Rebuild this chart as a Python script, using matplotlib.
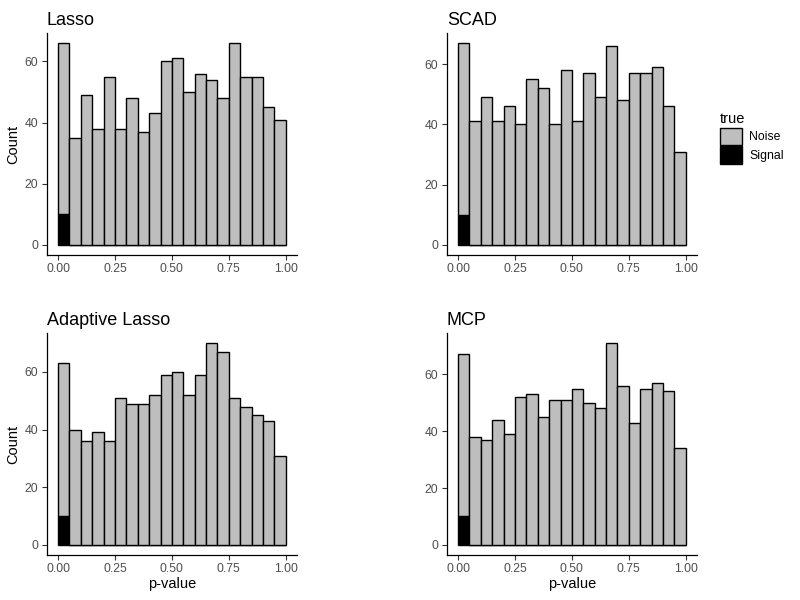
import numpy as np
import matplotlib
matplotlib.use("Agg")
import matplotlib.pyplot as plt
from matplotlib.patches import Patch

plt.rcParams["font.family"] = ["Liberation Sans", "DejaVu Sans"]

# ── Data: counts per 0.05-wide p-value bin (20 bins over [0, 1]) ──────────────
methods = ["Lasso", "SCAD", "Adaptive Lasso", "MCP"]

lasso_noise = [56, 35, 49, 38, 55, 38, 48, 37, 43, 60, 61, 50, 56, 54, 48, 66, 55, 55, 45, 41]
scad_noise = [57, 41, 49, 41, 46, 40, 55, 52, 40, 58, 41, 57, 49, 66, 48, 57, 57, 59, 46, 31]
alasso_noise = [53, 40, 36, 39, 36, 51, 49, 49, 52, 59, 60, 52, 59, 70, 67, 51, 48, 45, 43, 31]
mcp_noise = [57, 38, 37, 44, 39, 52, 53, 45, 51, 51, 55, 50, 48, 71, 56, 43, 55, 57, 54, 34]

signal = [10, 0, 0, 0, 0, 0, 0, 0, 0, 0, 0, 0, 0, 0, 0, 0, 0, 0, 0, 0]

noise_by_method = [lasso_noise, scad_noise, alasso_noise, mcp_noise]
legend_labels = ["Noise", "Signal"]
x_ticks = [0.00, 0.25, 0.50, 0.75, 1.00]

NOISE_COL = "#BEBEBE"
SIGNAL_COL = "#000000"
TICK_COL = "#4D4D4D"

bin_edges = np.linspace(0, 1, 21)
bin_left = bin_edges[:-1]
bin_width = np.diff(bin_edges)

fig = plt.figure(figsize=(8, 6), dpi=100)

# panel rectangles in figure fractions (left, bottom, width, height)
panel_boxes = [
    (0.0584, 0.575, 0.313, 0.370),
    (0.5584, 0.575, 0.313, 0.370),
    (0.0584, 0.075, 0.313, 0.370),
    (0.5584, 0.075, 0.313, 0.370),
]

for i, (name, noise) in enumerate(zip(methods, noise_by_method)):
    ax = fig.add_axes(panel_boxes[i])
    sig = np.array(signal)
    noi = np.array(noise)

    ax.bar(bin_left, sig, width=bin_width, align="edge",
           color=SIGNAL_COL, edgecolor="black", linewidth=1.0)
    ax.bar(bin_left, noi, width=bin_width, bottom=sig, align="edge",
           color=NOISE_COL, edgecolor="black", linewidth=1.0)

    total_max = (sig + noi).max()
    ax.set_xlim(-0.05, 1.05)
    ax.set_ylim(-0.05 * total_max, 1.05 * total_max)
    ax.set_xticks(x_ticks)
    ax.set_xticklabels([f"{t:.2f}" for t in x_ticks])
    ax.set_yticks([0, 20, 40, 60])

    for side in ("top", "right"):
        ax.spines[side].set_visible(False)
    for side in ("left", "bottom"):
        ax.spines[side].set_linewidth(0.9)
        ax.spines[side].set_color("black")
    ax.tick_params(axis="both", labelsize=8.8, labelcolor=TICK_COL,
                   color="#333333", length=3.5, width=0.8, pad=2.5)

    ax.set_title(name, loc="left", fontsize=13, pad=6)
    if i % 2 == 0:
        ax.set_ylabel("Count", fontsize=10.5, labelpad=3)
    if i >= 2:
        ax.set_xlabel("p-value", fontsize=10.5, labelpad=1)

handles = [
    Patch(facecolor=NOISE_COL, edgecolor="black", linewidth=1.0),
    Patch(facecolor=SIGNAL_COL, edgecolor="black", linewidth=1.0),
]
leg = fig.legend(handles, legend_labels, title="true", loc="upper left",
                 bbox_to_anchor=(0.892, 1 - 106 / 600), frameon=False,
                 fontsize=8.8, title_fontsize=10.5, handlelength=1.8,
                 handleheight=1.8, labelspacing=0.12, handletextpad=0.6,
                 borderpad=0, alignment="left")

fig.savefig("out.png", dpi=100)
